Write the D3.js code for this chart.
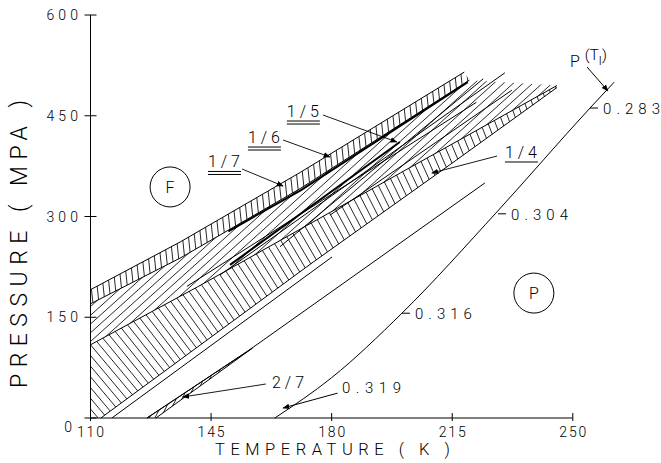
<!DOCTYPE html>
<html>
<head>
<meta charset="utf-8">
<script src="https://cdn.jsdelivr.net/npm/d3@7"></script>
<style>
  body { margin: 0; background: #fff; }
  svg { display: block; font-family: Roboto, "DejaVu Sans", sans-serif; font-weight: 300; }
</style>
</head>
<body>
<svg id="chart"></svg>
<script>
const width = 661,
  height = 463;

// axis ticks
const tempTicks = [110, 145, 180, 215, 250];
const pressTicks = [0, 150, 300, 450, 600];

// phase boundaries, [T (K), P (MPa)]
const band17Top = [[110, 191], [136, 262], [171, 366], [218.5, 515]];
const band17Bottom = [[110, 170], [136, 238], [171, 342], [220, 503]];
const band14Top = [[110, 109], [141, 195], [200, 365], [245.4, 495]];
const band14Bottom = [[113, 0], [174.6, 232], [214.3, 377], [245.4, 492]];
const lineL4b = [[116.2, 0], [180.1, 239.7]];
const line27 = [[126.4, 0], [156.3, 102], [224.5, 350]];
const band27 = [[126.4, 0], [157, 104], [129, 0]];
const lineTI = [[163.5, 0], [180, 60], [200.4, 156], [228, 307], [255, 461.5], [262, 500]];
const clusterThick = [
  [[150, 278], [171, 339], [219.5, 500]],
  [[150.5, 228], [199.8, 411]]
];
const clusterThin = [
  [[147.6, 213], [230.3, 514]],
  [[179.5, 302], [232.3, 488]],
  [[165, 255], [224, 505]],
  [[138, 196], [222, 470]]
];

// wave-vector values along P(T_I)
const qLabels = ["0.283", "0.304", "0.316"];
const qPoints = [[255, 461.5], [228.3, 304], [200.4, 156]];

// commensurate phase labels: text anchor, leader start, leader end
const phaseNames = ["1/7", "1/6", "1/5", "1/4", "2/7"];
const phaseText = [[144.1, 373], [155.7, 409.4], [167, 448.1], [230.3, 387.1], [162.7, 44.7]];
const phaseFrom = [[154, 370.7], [165.9, 413.9], [177.5, 451.1], [228, 390], [160.9, 50.6]];
const phaseTo = [[165.9, 345.4], [179.5, 388.6], [198.9, 410.9], [209.1, 364.8], [136.8, 31.3]];
const phaseUnderline = [2, 2, 2, 1, 0];

// phase names in circles
const circleNames = ["F", "P"];
const circlePos = [[133.1, 344], [238.7, 186]];

const x = d3.scaleLinear().domain([110, 250]).range([90.5, 572.8]);
const y = d3.scaleLinear().domain([0, 600]).range([418, 15]);

const svg = d3.select("#chart")
  .attr("width", width)
  .attr("height", height);

const defs = svg.append("defs");

defs.append("marker")
  .attr("id", "arrow")
  .attr("viewBox", "0 0 10 10")
  .attr("refX", 9).attr("refY", 5)
  .attr("markerWidth", 7).attr("markerHeight", 7)
  .attr("markerUnits", "userSpaceOnUse")
  .attr("orient", "auto")
  .append("path")
  .attr("d", "M0,1 L10,5 L0,9 Z")
  .attr("fill", "#000");

const line = d3.line().x(d => x(d[0])).y(d => y(d[1]));
const smooth = d3.line().x(d => x(d[0])).y(d => y(d[1])).curve(d3.curveMonotoneX);

function clipFor(id, pts) {
  defs.append("clipPath")
    .attr("id", id)
    .append("path")
    .attr("d", line(pts) + "Z");
  return svg.append("g").attr("clip-path", "url(#" + id + ")");
}

function drawHatch(g, segs) {
  g.selectAll("line")
    .data(segs)
    .join("line")
    .attr("x1", d => d[0]).attr("y1", d => d[1])
    .attr("x2", d => d[2]).attr("y2", d => d[3])
    .attr("stroke", "#000")
    .attr("stroke-width", 0.85);
}

// parallel hatching: angle in degrees (counter-clockwise), spacing in px
const regions = [
  { id: "rSlash", pts: band17Bottom.concat([[245.4, 495]], band14Top.slice().reverse()), angle: 42, gap: 6.5 },
  { id: "r17", pts: band17Top.concat(band17Bottom.slice().reverse()), angle: 96, gap: 6 },
  { id: "r27", pts: band27, angle: 62, gap: 5 }
];

regions.forEach(r => {
  const xs = r.pts.map(d => x(d[0])), ys = r.pts.map(d => y(d[1]));
  const cx = (d3.min(xs) + d3.max(xs)) / 2, cy = (d3.min(ys) + d3.max(ys)) / 2;
  const L = Math.hypot(d3.max(xs) - d3.min(xs), d3.max(ys) - d3.min(ys));
  const a = r.angle * Math.PI / 180;
  const dx = Math.cos(a), dy = -Math.sin(a);
  const nx = -dy, ny = dx;
  const segs = d3.range(-L / 2, L / 2, r.gap).map(s => [
    cx + nx * s - dx * L, cy + ny * s - dy * L,
    cx + nx * s + dx * L, cy + ny * s + dy * L
  ]);
  drawHatch(clipFor(r.id, r.pts), segs);
});

// lower region: hatch hangs from its upper edge and steepens towards high T
const backPts = [[110, 0]].concat(band14Top, band14Bottom.slice().reverse());
const p0 = [x(band14Top[0][0]), y(band14Top[0][1])];
const p1 = [x(band14Top[3][0]), y(band14Top[3][1])];
const edgeLen = Math.hypot(p1[0] - p0[0], p1[1] - p0[1]);
const ux = (p1[0] - p0[0]) / edgeLen, uy = (p1[1] - p0[1]) / edgeLen;
const tilt = d3.scaleLinear().domain([110, 245]).range([50, 72]).clamp(true);
const backSegs = d3.range(-140, edgeLen, 7).map(s => {
  const ax = p0[0] + ux * s, ay = p0[1] + uy * s;
  const a = tilt(x.invert(ax)) * Math.PI / 180;
  return [ax - Math.cos(a) * 4, ay - Math.sin(a) * 4, ax + Math.cos(a) * 160, ay + Math.sin(a) * 160];
});
drawHatch(clipFor("rBack", backPts), backSegs);

// boundary lines
const thinLines = [band17Top, band17Bottom, band14Top, band14Bottom, lineL4b, line27, band27]
  .concat(clusterThin);

svg.append("g")
  .selectAll("path")
  .data(thinLines)
  .join("path")
  .attr("d", line)
  .attr("fill", "none")
  .attr("stroke", "#000")
  .attr("stroke-width", 1);

svg.append("g")
  .selectAll("path")
  .data(clusterThick)
  .join("path")
  .attr("d", line)
  .attr("fill", "none")
  .attr("stroke", "#000")
  .attr("stroke-width", 2);

svg.append("path")
  .attr("d", smooth(lineTI))
  .attr("fill", "none")
  .attr("stroke", "#000")
  .attr("stroke-width", 1);

// axes
const axes = svg.append("g").attr("stroke", "#000").attr("stroke-width", 1);
axes.append("line")
  .attr("x1", x(110)).attr("x2", x(250))
  .attr("y1", y(0)).attr("y2", y(0));
axes.append("line")
  .attr("x1", x(110)).attr("x2", x(110))
  .attr("y1", y(0)).attr("y2", y(600));
axes.selectAll(".xt")
  .data(tempTicks)
  .join("line")
  .attr("x1", d => x(d)).attr("x2", d => x(d))
  .attr("y1", y(0) - 5).attr("y2", y(0) + 3);
axes.selectAll(".yt")
  .data(pressTicks)
  .join("line")
  .attr("x1", x(110) - 6).attr("x2", x(110) + 6)
  .attr("y1", d => y(d)).attr("y2", d => y(d));

svg.append("g")
  .selectAll("text")
  .data(tempTicks)
  .join("text")
  .attr("x", d => x(d))
  .attr("y", y(0) + 19)
  .attr("text-anchor", "middle")
  .attr("font-size", 14)
  .attr("textLength", 27)
  .attr("lengthAdjust", "spacing")
  .text(d => d);

svg.append("g")
  .selectAll("text")
  .data(pressTicks)
  .join("text")
  .attr("x", d => d === 0 ? 72 : 78)
  .attr("y", d => y(d) + (d === 0 ? 14 : 5))
  .attr("text-anchor", "end")
  .attr("font-size", 14)
  .text(d => d)
  .each(function(d) {
    const n = String(d).length;
    if (n > 1) d3.select(this).attr("textLength", n * 10.5).attr("lengthAdjust", "spacing");
  });

svg.append("text")
  .attr("x", 215).attr("y", 455)
  .attr("font-size", 16.5)
  .attr("textLength", 235)
  .attr("lengthAdjust", "spacing")
  .text("TEMPERATURE ( K )");

svg.append("text")
  .attr("transform", "translate(27,388) rotate(-90)")
  .attr("font-size", 23)
  .attr("textLength", 288)
  .attr("lengthAdjust", "spacing")
  .text("PRESSURE ( MPA )");

// wave-vector labels on P(T_I)
const qg = svg.append("g");
qg.selectAll("line")
  .data(qPoints)
  .join("line")
  .attr("x1", d => x(d[0])).attr("x2", d => x(d[0]) + 8)
  .attr("y1", d => y(d[1])).attr("y2", d => y(d[1]))
  .attr("stroke", "#000");
qg.selectAll("text")
  .data(qPoints)
  .join("text")
  .attr("x", d => x(d[0]) + 13)
  .attr("y", d => y(d[1]) + 6)
  .attr("font-size", 15)
  .attr("textLength", 57)
  .attr("lengthAdjust", "spacing")
  .text((d, i) => qLabels[i]);

// 0.319 with leader arrow
qg.append("line")
  .attr("x1", x(181.7)).attr("y1", y(37))
  .attr("x2", x(165.9)).attr("y2", y(14.9))
  .attr("stroke", "#000")
  .attr("marker-end", "url(#arrow)");
qg.append("text")
  .attr("x", x(183)).attr("y", y(37))
  .attr("font-size", 15)
  .attr("textLength", 59)
  .attr("lengthAdjust", "spacing")
  .text("0.319");

// P(T_I) label
const pt = svg.append("text")
  .attr("x", 570).attr("y", 67)
  .attr("font-size", 16);
pt.append("tspan").text("P");
pt.append("tspan").attr("dx", 5).attr("dy", -7).attr("font-size", 15).text("(T");
pt.append("tspan").attr("dy", 5).attr("font-size", 13).text("I");
pt.append("tspan").attr("dy", -5).attr("font-size", 15).text(")");
svg.append("line")
  .attr("x1", 587).attr("y1", 67)
  .attr("x2", x(260.2)).attr("y2", y(487))
  .attr("stroke", "#000")
  .attr("marker-end", "url(#arrow)");

// phase fraction labels
const pg = svg.append("g");
phaseNames.forEach((name, i) => {
  const tx = x(phaseText[i][0]), ty = y(phaseText[i][1]);
  pg.append("text")
    .attr("x", tx).attr("y", ty)
    .attr("font-size", 16)
    .attr("textLength", 32)
    .attr("lengthAdjust", "spacing")
    .text(name);
  for (let k = 0; k < phaseUnderline[i]; k++) {
    pg.append("line")
      .attr("x1", tx).attr("x2", tx + 33)
      .attr("y1", ty + 4 + k * 3).attr("y2", ty + 4 + k * 3)
      .attr("stroke", "#000").attr("stroke-width", 1);
  }
  pg.append("line")
    .attr("x1", x(phaseFrom[i][0])).attr("y1", y(phaseFrom[i][1]))
    .attr("x2", x(phaseTo[i][0])).attr("y2", y(phaseTo[i][1]))
    .attr("stroke", "#000").attr("stroke-width", 0.9)
    .attr("marker-end", "url(#arrow)");
});

// circled phase names
const cg = svg.append("g");
cg.selectAll("circle")
  .data(circlePos)
  .join("circle")
  .attr("cx", d => x(d[0])).attr("cy", d => y(d[1]))
  .attr("r", 20)
  .attr("fill", "none")
  .attr("stroke", "#000");
cg.selectAll("text")
  .data(circlePos)
  .join("text")
  .attr("x", d => x(d[0])).attr("y", d => y(d[1]) + 6)
  .attr("text-anchor", "middle")
  .attr("font-size", 16)
  .text((d, i) => circleNames[i]);
</script>
</body>
</html>
